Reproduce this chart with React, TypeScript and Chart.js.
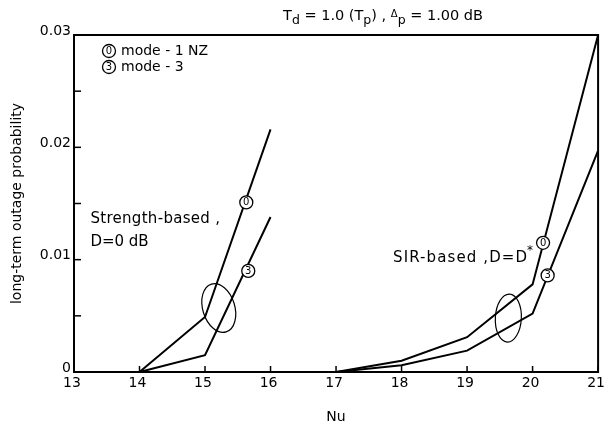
import React, { useEffect, useRef } from 'react';
import { Chart, registerables } from 'chart.js';

Chart.register(...registerables);

// ---------- data ----------
const xTicks = [13, 14, 15, 16, 17, 18, 19, 20, 21];
const yTicks = [0, 0.01, 0.02, 0.03];
const yMinorTicks = [0.005, 0.015, 0.025];

const strengthNu = [14, 15, 16];
const strengthMode1NZ = [0, 0.0049, 0.0216];
const strengthMode3 = [0, 0.0015, 0.0138];

const sirNu = [17, 18, 19, 20, 21];
const sirMode1NZ = [0, 0.001, 0.0031, 0.0078, 0.03];
const sirMode3 = [0, 0.0006, 0.0019, 0.0052, 0.0197];

// circled curve labels placed on the curves
const markerLabels = ['0', '3', '0', '3'];
const markerNu = [15.63, 15.66, 20.16, 20.23];
const markerProb = [0.0151, 0.009, 0.0115, 0.0086];

// ellipses grouping each pair of curves
const groupNu = [15.21, 19.63];
const groupProb = [0.0057, 0.0048];

// group captions
const groupTextNu = [13.25, 13.25, 17.87];
const groupTextProb = [0.0136, 0.0116, 0.0101];
const groupTexts = ['Strength-based ,', 'D=0 dB', 'SIR-based ,D=D'];

const legendLabels = ['mode - 1 NZ', 'mode - 3'];
const legendSymbols = ['0', '3'];

const FONT = '"DejaVu Sans", sans-serif';

function toPoints(xs: number[], ys: number[]) {
  return xs.map((x, i) => ({ x, y: ys[i] }));
}

function drawCircled(ctx: CanvasRenderingContext2D, cx: number, cy: number, label: string) {
  ctx.save();
  ctx.beginPath();
  ctx.fillStyle = '#fff';
  ctx.arc(cx, cy, 6.5, 0, Math.PI * 2);
  ctx.fill();
  ctx.lineWidth = 1.3;
  ctx.strokeStyle = '#000';
  ctx.stroke();
  ctx.fillStyle = '#000';
  ctx.font = `10px ${FONT}`;
  ctx.textAlign = 'center';
  ctx.textBaseline = 'middle';
  ctx.fillText(label, cx, cy + 0.5);
  ctx.restore();
}

const annotationPlugin = {
  id: 'annotations',
  afterDraw(chart: any) {
    const ctx: any = chart.ctx;
    const xs = chart.scales.x;
    const ys = chart.scales.y;
    const area = chart.chartArea;
    ctx.save();
    // frame
    ctx.strokeStyle = '#000';
    ctx.lineWidth = 2;
    ctx.strokeRect(area.left, area.top, area.right - area.left, area.bottom - area.top);
    // inward ticks
    ctx.lineWidth = 1.5;
    [...yTicks, ...yMinorTicks].forEach((v) => {
      const y = ys.getPixelForValue(v);
      ctx.beginPath();
      ctx.moveTo(area.left, y);
      ctx.lineTo(area.left + 7, y);
      ctx.stroke();
    });
    xTicks.forEach((v) => {
      const x = xs.getPixelForValue(v);
      ctx.beginPath();
      ctx.moveTo(x, area.bottom);
      ctx.lineTo(x, area.bottom - 6);
      ctx.stroke();
    });

    // ellipses
    ctx.lineWidth = 1.2;
    const ell = [
      { rx: 16, ry: 25, rot: -0.3 },
      { rx: 13, ry: 24, rot: 0.05 },
    ];
    groupNu.forEach((nu, i) => {
      ctx.beginPath();
      ctx.ellipse(xs.getPixelForValue(nu), ys.getPixelForValue(groupProb[i]), ell[i].rx, ell[i].ry, ell[i].rot, 0, Math.PI * 2);
      ctx.stroke();
    });

    // circled markers
    markerNu.forEach((nu, i) => {
      drawCircled(ctx, xs.getPixelForValue(nu), ys.getPixelForValue(markerProb[i]), markerLabels[i]);
    });

    // group captions
    ctx.fillStyle = '#000';
    ctx.textAlign = 'left';
    ctx.textBaseline = 'middle';
    const spacing = ['0.3px', '0px', '1.1px'];
    groupTexts.forEach((t, i) => {
      const x = xs.getPixelForValue(groupTextNu[i]);
      const y = ys.getPixelForValue(groupTextProb[i]);
      ctx.font = `15px ${FONT}`;
      ctx.letterSpacing = spacing[i];
      ctx.fillText(t, x, y);
      if (i === 2) {
        const w = ctx.measureText(t).width;
        ctx.letterSpacing = '0px';
        ctx.font = `12px ${FONT}`;
        ctx.fillText('*', x + w - 1, y - 8);
      }
    });
    ctx.letterSpacing = '0px';

    // legend
    legendLabels.forEach((t, i) => {
      const y = 51 + i * 16;
      drawCircled(ctx, 109, y, legendSymbols[i]);
      ctx.fillStyle = '#000';
      ctx.font = `14px ${FONT}`;
      ctx.textAlign = 'left';
      ctx.textBaseline = 'middle';
      ctx.fillText(t, 121, y);
    });

    // title with subscripts
    const parts: { t: string; sub?: boolean; small?: boolean }[] = [
      { t: 'T' }, { t: 'd', sub: true }, { t: ' = 1.0 (T' }, { t: 'p', sub: true },
      { t: ') , ' }, { t: 'Δ', small: true }, { t: 'p', sub: true }, { t: ' = 1.00 dB' },
    ];
    const fontFor = (p: any) => (p.sub ? `12.5px ${FONT}` : p.small ? `10px ${FONT}` : `14.5px ${FONT}`);
    let total = 0;
    parts.forEach((p) => {
      ctx.font = fontFor(p);
      total += ctx.measureText(p.t).width;
    });
    let cx = 383 - total / 2;
    const base = 20;
    ctx.textBaseline = 'alphabetic';
    parts.forEach((p) => {
      ctx.font = fontFor(p);
      ctx.fillText(p.t, cx, p.sub ? base + 4 : p.small ? base - 3 : base);
      cx += ctx.measureText(p.t).width;
    });
    ctx.restore();
  },
};

export default function App() {
  const ref = useRef<HTMLCanvasElement>(null);
  useEffect(() => {
    const lineStyle = {
      borderColor: '#000',
      borderWidth: 2,
      pointRadius: 0,
      fill: false,
      tension: 0,
      clip: 4,
    };
    const chart = new Chart(ref.current as HTMLCanvasElement, {
      type: 'line',
      data: {
        datasets: [
          { label: 'Strength-based mode-1NZ', data: toPoints(strengthNu, strengthMode1NZ), ...lineStyle },
          { label: 'Strength-based mode-3', data: toPoints(strengthNu, strengthMode3), ...lineStyle },
          { label: 'SIR-based mode-1NZ', data: toPoints(sirNu, sirMode1NZ), ...lineStyle },
          { label: 'SIR-based mode-3', data: toPoints(sirNu, sirMode3), ...lineStyle },
        ],
      } as any,
      options: {
        responsive: false,
        animation: false,
        layout: { padding: { top: 35, right: 7, left: 0, bottom: 0 } },
        plugins: { legend: { display: false }, tooltip: { enabled: false } },
        scales: {
          x: {
            type: 'linear',
            min: 13,
            max: 21,
            ticks: { stepSize: 1, color: '#000', font: { family: FONT, size: 14 }, padding: 3, labelOffset: -2, maxRotation: 0, autoSkip: false },
            grid: { display: false, drawTicks: false },
            border: { display: false },
            title: { display: true, text: 'Nu', color: '#000', font: { family: FONT, size: 14 }, padding: { top: 0, bottom: 2 } },
            afterFit: (s: any) => { s.height = 56; },
          },
          y: {
            type: 'linear',
            min: 0,
            max: 0.03,
            ticks: {
              stepSize: 0.01,
              color: '#000',
              font: { family: FONT, size: 14 },
              padding: 3,
              labelOffset: -4,
              callback: (v: any) => (Math.abs(v) < 1e-9 ? '0' : Number(v).toFixed(2)),
            },
            grid: { display: false, drawTicks: false },
            border: { display: false },
            title: { display: true, text: 'long-term outage probability', color: '#000', font: { family: FONT, size: 14 }, padding: { top: 9, bottom: 0 } },
            afterFit: (s: any) => { s.width = 74; },
          },
        },
      } as any,
      plugins: [annotationPlugin],
    });
    return () => chart.destroy();
  }, []);
  return (
    <div style={{ position: 'absolute', left: 0, top: 0, width: 610, height: 428, background: '#fff' }}>
      <canvas ref={ref} width={610} height={428} style={{ display: 'block', width: 610, height: 428 }} />
    </div>
  );
}
